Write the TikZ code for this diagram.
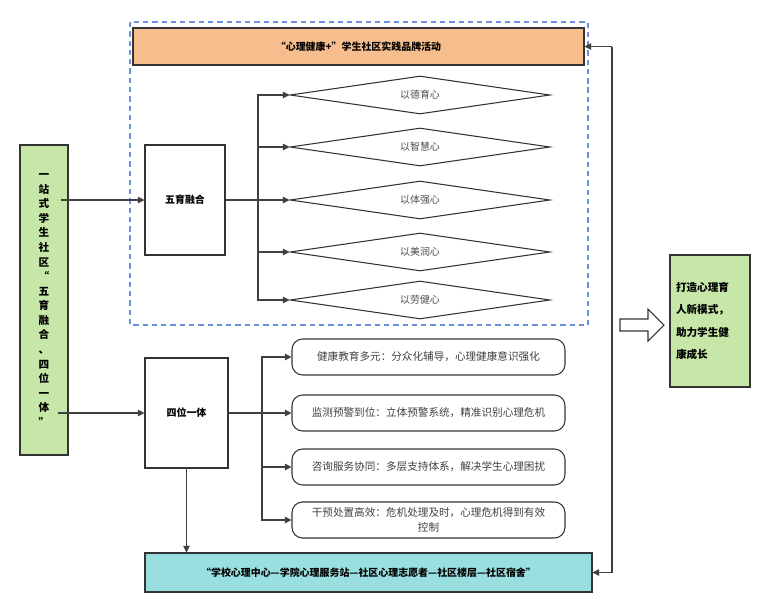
\documentclass[tikz,border=0pt]{standalone}
\usepackage{fontspec}
\setmainfont{Noto Sans CJK SC}
\usetikzlibrary{shapes.geometric,shapes.arrows,arrows.meta,positioning}
\definecolor{leafgreen}{HTML}{C6E7A8}
\definecolor{brandorange}{HTML}{F5BE8C}
\definecolor{tealbox}{HTML}{9ADFDF}
\definecolor{dashblue}{HTML}{6C8EE0}
\tikzset{
  box/.style={draw=black!80,thick,inner sep=0pt},
  gem/.style={draw=black!80,thick,diamond,aspect=6.8,minimum width=260*0.0265cm,minimum height=38*0.0265cm,inner sep=0pt,font=\fontsize{7.5}{8}\selectfont,text=black!70},
  pill/.style={draw=black!80,thick,rounded corners=8pt,minimum width=273*0.0265cm,minimum height=36*0.0265cm,font=\fontsize{8}{11}\selectfont,text=black!75,align=center},
  link/.style={draw=black!75,thick,-{Triangle[length=5pt,width=5pt]}},
}
\begin{document}
\begin{tikzpicture}[x=0.0265cm,y=-0.0265cm,font=\fontsize{7}{8}\selectfont]
\useasboundingbox (0,0) rectangle (772,613);
% frame of the brand activity
\draw[dashblue,thick,dash pattern=on 4pt off 3pt] (130,22) rectangle (588,325);
\node[box,fill=brandorange,minimum width=451*0.0265cm,minimum height=37*0.0265cm,font=\fontsize{7.5}{9}\selectfont\bfseries] (brand) at (358.5,46.5) {“心理健康+”学生社区实践品牌活动};
% left source
\node[box,fill=leafgreen,minimum width=48*0.0265cm,minimum height=310*0.0265cm,align=center,font=\fontsize{8}{11}\selectfont\bfseries] (hub) at (44,300)
  {一\\站\\式\\学\\生\\社\\区\\“\\五\\育\\融\\合\\、\\四\\位\\一\\体\\”};
\node[box,minimum width=80*0.0265cm,minimum height=110*0.0265cm,font=\fontsize{7.5}{9}\selectfont\bfseries] (five) at (185,200) {五育融合};
\node[box,minimum width=83*0.0265cm,minimum height=110*0.0265cm,font=\fontsize{7.5}{9}\selectfont\bfseries] (four) at (186.5,413) {四位一体};
% five diamonds
\foreach \n/\y/\t in {d1/95/以德育心,d2/147/以智慧心,d3/200/以体强心,d4/252/以美润心,d5/300/以劳健心}{
  \node[gem] (\n) at (420,\y) {\t};
  \draw[link] (five.east) -- (258,200) |- (\n.west);
}
% four pills
\foreach \n/\y/\t in {p1/357/健康教育多元：分众化辅导，心理健康意识强化,
                      p2/413/监测预警到位：立体预警系统，精准识别心理危机,
                      p3/467/咨询服务协同：多层支持体系，解决学生心理困扰,
                      p4/520/干预处置高效：危机处理及时，心理危机得到有效\\控制}{
  \node[pill] (\n) at (428.5,\y) {\t};
  \draw[link] (four.east) -- (262,413) |- (\n.west);
}
\node[box,fill=tealbox,minimum width=447*0.0265cm,minimum height=39*0.0265cm,font=\fontsize{7.5}{9}\selectfont\bfseries] (chain) at (368.5,572.5) {“学校心理中心—学院心理服务站—社区心理志愿者—社区楼层—社区宿舍”};
\node[box,fill=leafgreen,minimum width=80*0.0265cm,minimum height=132*0.0265cm,align=left,text width=68*0.0265cm,font=\fontsize{8}{17}\selectfont\bfseries] (goal) at (710,321) {打造心理育\\人新模式，\\助力学生健\\康成长\\[14pt]};
\node[draw=black!80,thick,single arrow,minimum height=44*0.0265cm,minimum width=32*0.0265cm,single arrow head extend=4pt,inner sep=2pt] (push) at (639,325) {};
% connectors
\coordinate (rail) at (612,300);
\draw[link] (hub.east |- five) ++(-8,0) coordinate (h1) -- (five.west);
\draw[link] (hub.east |- four) ++(-11,0) coordinate (h2) -- (four.west);
\draw[link] (four.south) -- (four.south |- chain.north);
\draw[link] (brand.east -| rail) -- (brand.east);
\draw[link] (rail |- brand.east) -- (rail |- chain.east) -- (chain.east);
\end{tikzpicture}
\end{document}
